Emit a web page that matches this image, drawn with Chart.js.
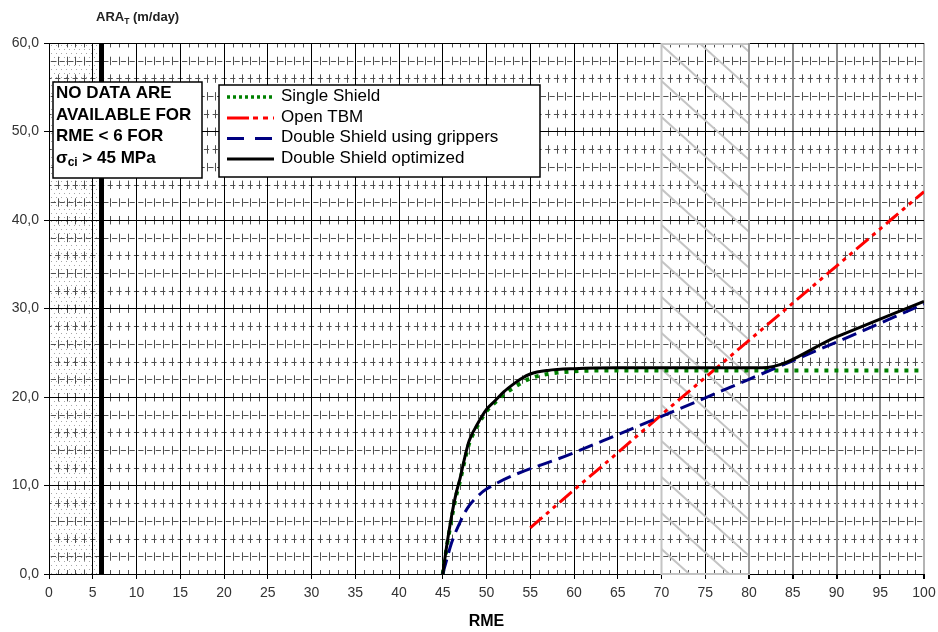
<!DOCTYPE html>
<html>
<head>
<meta charset="utf-8">
<script src="https://cdn.jsdelivr.net/npm/chart.js@4/dist/chart.umd.min.js"></script>
<style>
  html, body { margin: 0; padding: 0; background: #fff; }
  #wrap { width: 938px; height: 632px; position: relative; }
</style>
</head>
<body>
<div id="wrap"><canvas id="c" width="938" height="632"></canvas></div>
<script>
// Advance rate (m/day) against rock mass excavability (RME)
const rmeSingle = [45, 45.5, 46, 46.5, 47, 47.5, 48, 49, 50, 51, 52, 53, 54, 55, 57, 60, 65, 70, 80, 90, 100];
const araSingle = [0, 3.3, 6.2, 8.7, 10.6, 12.8, 14.7, 16.8, 18.4, 19.4, 20.3, 21.0, 21.6, 22.1, 22.6, 22.9, 23.0, 23.0, 23.0, 23.0, 23.0];

const rmeOpen = [55, 60, 65, 70, 75, 80, 85, 90, 95, 100];
const araOpen = [5.2, 9.5, 13.7, 18.0, 22.2, 26.4, 30.6, 34.8, 39.0, 43.2];

const rmeGrip = [45, 45.5, 46, 46.5, 47, 47.5, 48, 49, 50, 60, 70, 80, 90, 100];
const araGrip = [0, 1.8, 3.5, 4.8, 5.9, 6.9, 7.7, 8.8, 9.6, 13.7, 17.8, 22.0, 26.2, 30.5];

const rmeOpt = [45, 45.5, 46, 46.5, 47, 47.5, 48, 49, 50, 51, 52, 53, 54, 55, 57, 60, 65, 70, 81.5, 90, 100];
const araOpt = [0, 3.5, 6.5, 9.0, 10.9, 13.1, 15.0, 17.0, 18.6, 19.6, 20.6, 21.4, 22.1, 22.6, 23.0, 23.2, 23.3, 23.3, 23.3, 26.8, 30.8];

const seriesNames = ['Single Shield', 'Open TBM', 'Double Shield using grippers', 'Double Shield optimized'];

const xTicks = [0, 5, 10, 15, 20, 25, 30, 35, 40, 45, 50, 55, 60, 65, 70, 75, 80, 85, 90, 95, 100];
const yTicks = [0, 10, 20, 30, 40, 50, 60];

const noDataLimit = 6;          // RME below which no data exist
const hatchBand = [70, 80];     // shaded RME band
const noteLines = ['NO DATA ARE', 'AVAILABLE FOR', 'RME < 6 FOR'];

const FONT = '"Liberation Sans", Arial, Helvetica, sans-serif';

const pts = (xs, ys) => xs.map((v, i) => ({ x: v, y: ys[i] }));

// Legend sample dash patterns, in dataset order
const legendDash = [[3, 3], [22, 4, 5, 5, 5, 5], [17, 11], []];

// Paper-like plot background: stipple on the no-data band and the fine dashed texture
const backdrop = {
  id: 'backdrop',
  beforeDraw(chart) {
    const { ctx, chartArea: a, scales: { x, y } } = chart;
    ctx.save();
    ctx.fillStyle = '#fff';
    ctx.fillRect(0, 0, chart.width, chart.height);

    const x0 = x.getPixelForValue(0), x6 = x.getPixelForValue(noDataLimit);
    ctx.fillStyle = '#a8a8a8';
    let row = 0;
    for (let py = a.top + 2; py < a.bottom; py += 4, row++) {
      for (let px = x0 + 2 + (row % 2) * 2.5; px < x6 - 1; px += 5) {
        ctx.fillRect(Math.round(px), Math.round(py), 1, 1);
      }
    }

    ctx.strokeStyle = '#505050';
    ctx.lineWidth = 1;
    // short vertical dashes at every RME unit
    const unitY = y.getPixelForValue(0) - y.getPixelForValue(1);
    ctx.setLineDash([unitY * 0.95, unitY * 1.05]);
    ctx.lineDashOffset = unitY * 0.5;
    for (let v = 1; v < 100; v++) {
      if (v % 5 === 0) continue;
      const px = Math.round(x.getPixelForValue(v)) + 0.5;
      ctx.beginPath();
      ctx.moveTo(px, a.bottom);
      ctx.lineTo(px, a.top);
      ctx.stroke();
    }
    // short horizontal dashes every 2 units of advance rate
    const unitX = x.getPixelForValue(1) - x.getPixelForValue(0);
    ctx.setLineDash([unitX * 0.6, unitX * 0.4]);
    for (let v = 2; v < 60; v += 2) {
      if (v % 10 === 0) continue;
      ctx.lineDashOffset = (v % 4 === 0) ? unitX * 0.3 : -unitX * 0.2;
      const py = Math.round(y.getPixelForValue(v)) + 0.5;
      ctx.beginPath();
      ctx.moveTo(a.left, py);
      ctx.lineTo(a.right, py);
      ctx.stroke();
    }
    ctx.restore();
  }
};

// Hatched RME band and the no-data limit line
const bands = {
  id: 'bands',
  beforeDatasetsDraw(chart) {
    const { ctx, scales: { x, y } } = chart;
    const l = x.getPixelForValue(hatchBand[0]), r = x.getPixelForValue(hatchBand[1]);
    const t = y.getPixelForValue(60), b = y.getPixelForValue(0);
    ctx.save();
    ctx.beginPath();
    ctx.rect(l, t, r - l, b - t);
    ctx.clip();
    ctx.strokeStyle = '#c4c4c4';
    ctx.lineWidth = 2;
    const w = r - l, slope = 0.9, gap = 36;
    for (let y0 = t + 2 - Math.ceil(w * slope / gap) * gap; y0 < b; y0 += gap) {
      ctx.beginPath();
      ctx.moveTo(l, y0);
      ctx.lineTo(r, y0 + w * slope);
      ctx.stroke();
    }
    ctx.restore();
    ctx.save();
    ctx.strokeStyle = '#c4c4c4';
    ctx.lineWidth = 2;
    ctx.strokeRect(l, t + 1, r - l, b - t - 1);
    ctx.strokeStyle = '#9a9a9a';
    ctx.beginPath();
    ctx.moveTo(r, t);
    ctx.lineTo(r, b);
    ctx.stroke();
    const xl = x.getPixelForValue(noDataLimit);
    ctx.fillStyle = '#000';
    ctx.fillRect(xl - 2.5, t, 5, b - t);
    ctx.restore();
  }
};

// Note box, legend box and the value-axis caption
const overlay = {
  id: 'overlay',
  afterDraw(chart) {
    const { ctx } = chart;
    ctx.save();

    // note box
    ctx.fillStyle = '#fff';
    ctx.fillRect(53, 82, 149, 96);
    ctx.strokeStyle = '#000';
    ctx.lineWidth = 1.5;
    ctx.strokeRect(53, 82, 149, 96);
    ctx.fillStyle = '#000';
    ctx.textBaseline = 'alphabetic';
    ctx.textAlign = 'left';
    ctx.font = 'bold 17px ' + FONT;
    const base = [98, 119.5, 141];
    noteLines.forEach((s, i) => ctx.fillText(s, 56, base[i]));
    let tx = 56;
    ctx.fillText('σ', tx, 162.5);
    tx += ctx.measureText('σ').width;
    ctx.font = 'bold 12px ' + FONT;
    ctx.fillText('ci', tx, 166);
    tx += ctx.measureText('ci').width;
    ctx.font = 'bold 17px ' + FONT;
    ctx.fillText(' > 45 MPa', tx, 162.5);

    // legend box
    ctx.fillStyle = '#fff';
    ctx.fillRect(219, 85, 321, 92);
    ctx.strokeStyle = '#000';
    ctx.lineWidth = 1.5;
    ctx.strokeRect(219, 85, 321, 92);
    const rows = [96, 117, 137.5, 158];
    chart.data.datasets.forEach((ds, i) => {
      const yy = rows[i];
      ctx.strokeStyle = ds.borderColor;
      ctx.lineWidth = i === 0 ? 3.5 : 3;
      ctx.setLineDash(legendDash[i]);
      ctx.beginPath();
      ctx.moveTo(227, yy + 1);
      ctx.lineTo(274, yy + 1);
      ctx.stroke();
      ctx.setLineDash([]);
      ctx.fillStyle = '#000';
      ctx.font = '17px ' + FONT;
      ctx.textBaseline = 'middle';
      ctx.fillText(ds.label, 281, yy);
    });

    // value-axis caption
    ctx.textBaseline = 'alphabetic';
    ctx.fillStyle = '#222';
    ctx.font = 'bold 13px ' + FONT;
    let cx = 96;
    ctx.fillText('ARA', cx, 21);
    cx += ctx.measureText('ARA').width;
    ctx.font = 'bold 8.5px ' + FONT;
    ctx.fillText('T', cx, 23.5);
    cx += ctx.measureText('T').width;
    ctx.font = 'bold 13px ' + FONT;
    ctx.fillText(' (m/day)', cx, 21);
    ctx.restore();
  }
};

new Chart(document.getElementById('c'), {
  type: 'line',
  data: {
    datasets: [
      { label: seriesNames[0], data: pts(rmeSingle, araSingle), borderColor: '#008000', borderWidth: 4, borderDash: [4, 6], order: 2 },
      { label: seriesNames[1], data: pts(rmeOpen, araOpen), borderColor: '#ff0000', borderWidth: 3, borderDash: [16, 5, 4, 5, 4, 5], order: 3 },
      { label: seriesNames[2], data: pts(rmeGrip, araGrip), borderColor: '#000080', borderWidth: 3, borderDash: [15, 7], order: 1 },
      { label: seriesNames[3], data: pts(rmeOpt, araOpt), borderColor: '#000000', borderWidth: 3, order: 0 }
    ]
  },
  options: {
    responsive: false,
    animation: false,
    devicePixelRatio: 1,
    layout: { padding: { top: 43, right: 14, left: 0, bottom: 0 } },
    elements: {
      point: { radius: 0, hoverRadius: 0 },
      line: { fill: false, cubicInterpolationMode: 'monotone', borderCapStyle: 'butt' }
    },
    plugins: { legend: { display: false }, tooltip: { enabled: false } },
    scales: {
      x: {
        type: 'linear', min: 0, max: 100,
        afterBuildTicks: s => { s.ticks = xTicks.map(v => ({ value: v })); },
        ticks: { font: { family: FONT, size: 14 }, color: '#333', padding: 6, maxRotation: 0, autoSkip: false },
        grid: {
          color: c => (c.tick && c.tick.value >= 100) ? '#b4b4b4' : (c.tick && c.tick.value >= 80) ? '#8c8c8c' : '#000',
          lineWidth: c => (c.tick && c.tick.value >= 80) ? 2 : 1,
          tickLength: 5, tickColor: '#000'
        },
        border: { color: '#000', width: 1 },
        title: { display: true, text: 'RME', color: '#000', font: { family: FONT, size: 16, weight: 'bold' }, padding: { top: 0, bottom: 1 } },
        afterFit: s => { s.height = 58; s.paddingLeft = 0; s.paddingRight = 0; }
      },
      y: {
        type: 'linear', min: 0, max: 60,
        afterBuildTicks: s => { s.ticks = yTicks.map(v => ({ value: v })); },
        ticks: { font: { family: FONT, size: 14 }, color: '#333', padding: 5, callback: v => v.toFixed(1).replace('.', ',') },
        grid: { color: '#000', lineWidth: 1, tickLength: 5, tickColor: '#000' },
        border: { color: '#000', width: 1 },
        afterFit: s => { s.width = 49; s.paddingTop = 0; s.paddingBottom = 0; }
      }
    }
  },
  plugins: [backdrop, bands, overlay]
});
</script>
</body>
</html>
